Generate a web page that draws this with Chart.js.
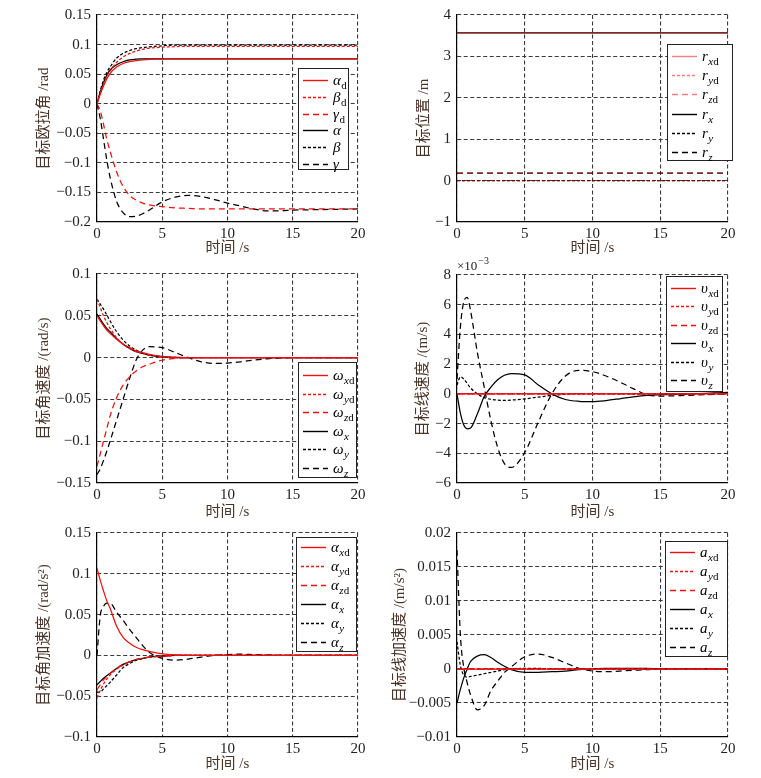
<!DOCTYPE html>
<html>
<head>
<meta charset="utf-8">
<script src="https://cdn.jsdelivr.net/npm/chart.js@4.4.0/dist/chart.umd.min.js"></script>
<style>
  body { margin: 0; background: #fff; width: 761px; height: 778px; position: relative; overflow: hidden; }
  canvas { position: absolute; }
</style>
</head>
<body>
<canvas id="p1"></canvas>
<canvas id="p2"></canvas>
<canvas id="p3"></canvas>
<canvas id="p4"></canvas>
<canvas id="p5"></canvas>
<canvas id="p6"></canvas>
<script>
// 时间采样点 (s)
const T = [0, 0.25, 0.5, 0.75, 1, 1.5, 2, 2.5, 3, 3.5, 4, 5, 6, 7, 8, 9, 10, 11, 12, 13, 14, 15, 17, 20];
const TP = [0, 20];
const xTicks = [0, 5, 10, 15, 20];

// 欧拉角 /rad
const eulerAlphaD = [0, 0.016, 0.030, 0.042, 0.051, 0.062, 0.068, 0.071, 0.073, 0.074, 0.075, 0.0755, 0.076, 0.076, 0.076, 0.076, 0.076, 0.076, 0.076, 0.076, 0.076, 0.076, 0.076, 0.076];
const eulerBetaD  = [0, 0.018, 0.034, 0.046, 0.055, 0.070, 0.079, 0.085, 0.089, 0.092, 0.094, 0.0955, 0.0965, 0.097, 0.097, 0.097, 0.097, 0.097, 0.097, 0.097, 0.097, 0.097, 0.097, 0.097];
const eulerGammaD = [0, -0.012, -0.035, -0.060, -0.080, -0.115, -0.140, -0.155, -0.163, -0.168, -0.171, -0.174, -0.176, -0.177, -0.178, -0.178, -0.178, -0.178, -0.178, -0.178, -0.178, -0.178, -0.178, -0.178];
const eulerAlpha  = [0, 0.020, 0.036, 0.048, 0.057, 0.066, 0.071, 0.074, 0.0755, 0.076, 0.076, 0.076, 0.076, 0.076, 0.076, 0.076, 0.076, 0.076, 0.076, 0.076, 0.076, 0.076, 0.076, 0.076];
const eulerBeta   = [0, 0.022, 0.040, 0.053, 0.062, 0.077, 0.085, 0.090, 0.093, 0.095, 0.096, 0.098, 0.099, 0.099, 0.099, 0.099, 0.099, 0.099, 0.099, 0.099, 0.099, 0.099, 0.099, 0.099];
const eulerGamma  = [0, -0.025, -0.060, -0.095, -0.124, -0.165, -0.184, -0.191, -0.190, -0.186, -0.180, -0.166, -0.158, -0.155, -0.157, -0.162, -0.168, -0.173, -0.178, -0.181, -0.181, -0.180, -0.179, -0.178];

// 位置 /m
const rXd = [3.57, 3.57];
const rYd = [0, 0];
const rZd = [0.18, 0.18];
const rX  = [3.57, 3.57];
const rY  = [0, 0];
const rZ  = [0.18, 0.18];

// 角速度 /(rad/s)
const omegaXd = [0.050, 0.044, 0.038, 0.033, 0.029, 0.022, 0.016, 0.012, 0.008, 0.006, 0.004, 0.0015, 0.0005, 0, 0, 0, 0, 0, 0, 0, 0, 0, 0, 0];
const omegaYd = [0.070, 0.060, 0.050, 0.042, 0.035, 0.024, 0.016, 0.011, 0.007, 0.005, 0.003, 0.001, 0.0003, 0, 0, 0, 0, 0, 0, 0, 0, 0, 0, 0];
const omegaZd = [-0.130, -0.115, -0.100, -0.085, -0.070, -0.048, -0.033, -0.023, -0.016, -0.011, -0.008, -0.003, -0.001, 0, 0, 0, 0, 0, 0, 0, 0, 0, 0, 0];
const omegaX  = [0.052, 0.046, 0.040, 0.035, 0.031, 0.023, 0.016, 0.011, 0.007, 0.005, 0.003, 0.001, 0, 0, 0, 0, 0, 0, 0, 0, 0, 0, 0, 0];
const omegaY  = [0.070, 0.064, 0.058, 0.051, 0.044, 0.031, 0.021, 0.014, 0.009, 0.005, 0.003, 0.001, 0, 0, 0, 0, 0, 0, 0, 0, 0, 0, 0, 0];
const omegaZ  = [-0.140, -0.133, -0.123, -0.112, -0.100, -0.075, -0.050, -0.025, -0.003, 0.009, 0.013, 0.012, 0.006, 0, -0.005, -0.007, -0.0065, -0.005, -0.003, -0.0015, -0.0005, 0, 0, 0];

// 线速度 (×10^-3 m/s)
const vXd = [0, 0, 0, 0, 0, 0, 0, 0, 0, 0, 0, 0, 0, 0, 0, 0, 0, 0, 0, 0, 0, 0, 0, 0];
const vYd = [0, 0, 0, 0, 0, 0, 0, 0, 0, 0, 0, 0, 0, 0, 0, 0, 0, 0, 0, 0, 0, 0, 0, 0];
const vZd = [0, 0, 0, 0, 0, 0, 0, 0, 0, 0, 0, 0, 0, 0, 0, 0, 0, 0, 0, 0, 0, 0, 0, 0];
const vX  = [0, -1.3, -2.1, -2.35, -2.3, -1.35, -0.2, 0.45, 0.95, 1.25, 1.37, 1.28, 0.6, 0, -0.38, -0.5, -0.52, -0.45, -0.33, -0.2, -0.1, -0.06, -0.02, 0.1];
const vY  = [0.6, 1.15, 1.0, 0.7, 0.4, 0.0, -0.25, -0.37, -0.42, -0.44, -0.42, -0.34, -0.22, -0.1, -0.03, 0, 0, 0, 0, 0, 0, 0, 0, 0];
const vZ  = [1.0, 4.5, 6.2, 6.5, 5.6, 2.8, 0.5, -1.8, -3.6, -4.7, -4.95, -3.95, -1.9, 0, 1.2, 1.58, 1.5, 1.2, 0.8, 0.35, -0.05, -0.15, -0.1, 0];

// 角加速度 /(rad/s²)
const accXd = [0.107, 0.092, 0.079, 0.067, 0.058, 0.036, 0.022, 0.015, 0.010, 0.007, 0.005, 0.002, 0.0006, 0, 0, 0, 0, 0, 0, 0, 0, 0, 0, 0];
const accYd = [-0.052, -0.043, -0.035, -0.029, -0.024, -0.017, -0.012, -0.008, -0.005, -0.0035, -0.002, -0.001, 0, 0, 0, 0, 0, 0, 0, 0, 0, 0, 0, 0];
const accZd = [-0.042, -0.036, -0.030, -0.026, -0.022, -0.016, -0.011, -0.008, -0.005, -0.0035, -0.002, -0.001, 0, 0, 0, 0, 0, 0, 0, 0, 0, 0, 0, 0];
const accX  = [-0.036, -0.032, -0.028, -0.025, -0.022, -0.016, -0.011, -0.008, -0.005, -0.0035, -0.002, -0.001, 0, 0, 0, 0, 0, 0, 0, 0, 0, 0, 0, 0];
const accY  = [-0.045, -0.045, -0.041, -0.037, -0.033, -0.024, -0.015, -0.010, -0.006, -0.004, -0.002, -0.001, 0, 0, 0, 0, 0, 0, 0, 0, 0, 0, 0, 0];
const accZ  = [0, 0.049, 0.060, 0.064, 0.064, 0.053, 0.043, 0.032, 0.022, 0.012, 0.004, -0.0036, -0.0058, -0.0045, -0.002, 0, 0.001, 0.0015, 0.001, 0.0005, 0, 0, 0, 0];

// 线加速度 /(m/s²)
const aXd = [0, 0, 0, 0, 0, 0, 0, 0, 0, 0, 0, 0, 0, 0, 0, 0, 0, 0, 0, 0, 0, 0, 0, 0];
const aYd = [0, 0, 0, 0, 0, 0, 0, 0, 0, 0, 0, 0, 0, 0, 0, 0, 0, 0, 0, 0, 0, 0, 0, 0];
const aZd = [0, 0, 0, 0, 0, 0, 0, 0, 0, 0, 0, 0, 0, 0, 0, 0, 0, 0, 0, 0, 0, 0, 0, 0];
const aX  = [-0.005, -0.003, -0.0013, 0, 0.0011, 0.0019, 0.0021, 0.0017, 0.001, 0.0004, -0.0001, -0.0005, -0.0005, -0.0004, -0.0003, -0.0001, 0, 0.0001, 0.0001, 0.0001, 0.0001, 0, 0, 0];
const aY  = [0.004, 0.0005, -0.0009, -0.0012, -0.0011, -0.0009, -0.0007, -0.0005, -0.0003, -0.0001, 0, 0.0001, 0.0001, 0, 0, 0, 0, 0, 0, 0, 0, 0, 0, 0];
const aZ  = [0.0175, 0.005, 0.0002, -0.002, -0.0038, -0.006, -0.0054, -0.0032, -0.0018, -0.0005, 0.0003, 0.0018, 0.0022, 0.0017, 0.0009, 0.0001, -0.0003, -0.0004, -0.0003, -0.0002, -0.0001, 0, 0, 0];

// 图例符号
const eulerSyms = ['α', 'β', 'γ', 'α', 'β', 'γ'];
const eulerSubs = ['d', 'd', 'd', '', '', ''];
const xyzSubs = ['xd', 'yd', 'zd', 'x', 'y', 'z'];

const DASHES = [[], [3, 2], [6, 4]];
const RED = '#f01010';
const GRID = '#3a3a3a';
const FONT_NUM = '"Liberation Serif", "Times New Roman", serif';
const FONT_TITLE = '"Liberation Serif", "Noto Sans CJK SC", serif';

function fmtTick(v) {
  return String(Math.round(v * 1e6) / 1e6).replace('-', '\u2212');
}

// 图内方框图例 + ×10^-3 标注
const boxLegend = {
  id: 'boxLegend',
  afterDraw(chart, args, o) {
    const { ctx, chartArea: a } = chart;
    const bx = Math.round(a.right + o.dx - o.w), by = Math.round(a.top + o.dy);
    ctx.save();
    ctx.fillStyle = '#fff';
    ctx.fillRect(bx, by, o.w, o.h);
    ctx.setLineDash([]);
    ctx.strokeStyle = '#222';
    ctx.lineWidth = 1;
    ctx.strokeRect(bx + 0.5, by + 0.5, o.w, o.h);
    chart.data.datasets.forEach((ds, i) => {
      const y = Math.round(by + o.first + i * o.gap) + 0.5;
      ctx.strokeStyle = ds.borderColor;
      ctx.lineWidth = 1.4;
      ctx.setLineDash(ds.borderDash);
      ctx.beginPath();
      ctx.moveTo(bx + 5, y);
      ctx.lineTo(bx + 30, y);
      ctx.stroke();
      ctx.setLineDash([]);
      ctx.fillStyle = '#000';
      ctx.textAlign = 'left';
      ctx.textBaseline = 'alphabetic';
      let x = bx + 35;
      ctx.font = 'italic 15px ' + FONT_NUM;
      ctx.fillText(o.syms[i], x, y + 4);
      x += ctx.measureText(o.syms[i]).width + 0.5;
      for (const ch of o.subs[i]) {
        ctx.font = (ch === 'd' ? '' : 'italic ') + '11px ' + FONT_NUM;
        ctx.fillText(ch, x, y + 8);
        x += ctx.measureText(ch).width;
      }
    });
    if (o.exponent) {
      ctx.fillStyle = '#222';
      ctx.font = '13px ' + FONT_NUM;
      ctx.fillText('×10', a.left, a.top - 5);
      const w = ctx.measureText('×10').width;
      ctx.font = '10px ' + FONT_NUM;
      ctx.fillText('\u22123', a.left + w + 1, a.top - 11);
    }
    ctx.restore();
  }
};

function makePanel(p) {
  const cv = document.getElementById(p.id);
  const [cl, ct, cw, ch] = p.box;
  const [pl, pt, pr, pb] = p.plot;
  cv.width = cw; cv.height = ch;
  Object.assign(cv.style, { left: cl + 'px', top: ct + 'px', width: cw + 'px', height: ch + 'px' });

  const datasets = p.series.map((vals, i) => ({
    data: p.t.map((x, k) => ({ x, y: vals[k] })),
    borderColor: i < 3 ? p.red : '#000',
    borderWidth: 1.25,
    borderDash: DASHES[i % 3],
    pointRadius: 0,
    cubicInterpolationMode: 'monotone',
    fill: false,
  }));

  return new Chart(cv, {
    type: 'line',
    data: { datasets },
    options: {
      responsive: false,
      animation: false,
      events: [],
      layout: { padding: { top: pt - ct, right: cl + cw - pr, left: 0, bottom: 0 } },
      plugins: {
        legend: { display: false },
        tooltip: { enabled: false },
        boxLegend: p.legend,
      },
      scales: {
        x: {
          type: 'linear',
          min: 0, max: 20,
          afterBuildTicks: (s) => { s.ticks = xTicks.map(v => ({ value: v })); },
          afterFit: (s) => { s.height = ct + ch - pb; },
          grid: { color: GRID, lineWidth: 1.1, drawTicks: false },
          border: { display: true, color: '#000', width: 1.2, dash: [4, 2.5] },
          ticks: { color: '#222', padding: 3, autoSkip: false, maxRotation: 0, font: { family: FONT_NUM, size: 15 }, callback: fmtTick },
          title: { display: true, text: '时间 /s', color: '#4a3428', font: { family: FONT_TITLE, size: 15, lineHeight: 1.2 },
                   padding: { top: 0, bottom: ct + ch - p.xTitleY - 9 } },
        },
        y: {
          type: 'linear',
          min: p.yMin, max: p.yMax,
          ticks: { stepSize: p.yStep, color: '#222', padding: 6, autoSkip: false, font: { family: FONT_NUM, size: 15 }, callback: fmtTick },
          afterFit: (s) => { s.width = pl - cl; },
          grid: { color: GRID, lineWidth: 1.1, drawTicks: false },
          border: { display: true, color: '#000', width: 1.2, dash: [4, 2.5] },
          title: { display: true, text: p.yTitle, color: '#4a3428', font: { family: FONT_TITLE, size: 15, lineHeight: 1.2 },
                   padding: { top: p.yTitleX - cl - 9, bottom: 0 } },
        },
      },
    },
    plugins: [boxLegend],
  });
}

const panels = [
  { id: 'p1', box: [0, 0, 378, 256], plot: [97, 14, 358, 222], xTitleY: 248, yTitleX: 44,
    yMin: -0.2, yMax: 0.15, yStep: 0.05, yTitle: '目标欧拉角 /rad', t: T, red: RED,
    series: [eulerAlphaD, eulerBetaD, eulerGammaD, eulerAlpha, eulerBeta, eulerGamma],
    legend: { syms: eulerSyms, subs: eulerSubs, dx: -10, dy: 53, w: 50, h: 101, first: 12, gap: 16.8 } },
  { id: 'p2', box: [380, 0, 381, 256], plot: [457, 14, 728, 222], xTitleY: 248, yTitleX: 424,
    yMin: -1, yMax: 4, yStep: 1, yTitle: '目标位置 /m', t: TP, red: 'rgba(232,0,0,0.5)',
    series: [rXd, rYd, rZd, rX, rY, rZ],
    legend: { syms: ['r', 'r', 'r', 'r', 'r', 'r'], subs: xyzSubs, dx: 4, dy: 29, w: 65, h: 116, first: 12, gap: 19.2 } },
  { id: 'p3', box: [0, 256, 378, 262], plot: [97, 274, 358, 483], xTitleY: 512, yTitleX: 44,
    yMin: -0.15, yMax: 0.1, yStep: 0.05, yTitle: '目标角速度 /(rad/s)', t: T, red: RED,
    series: [omegaXd, omegaYd, omegaZd, omegaX, omegaY, omegaZ],
    legend: { syms: ['ω', 'ω', 'ω', 'ω', 'ω', 'ω'], subs: xyzSubs, dx: -2, dy: 88, w: 58, h: 115, first: 13, gap: 18.6 } },
  { id: 'p4', box: [380, 256, 381, 262], plot: [457, 275, 728, 483], xTitleY: 512, yTitleX: 423,
    yMin: -6, yMax: 8, yStep: 2, yTitle: '目标线速度 /(m/s)', t: T, red: RED,
    series: [vXd, vYd, vZd, vX, vY, vZ],
    legend: { syms: ['υ', 'υ', 'υ', 'υ', 'υ', 'υ'], subs: xyzSubs, dx: -6, dy: 1, w: 56, h: 115, first: 12, gap: 18.4, exponent: true } },
  { id: 'p5', box: [0, 518, 378, 260], plot: [97, 529, 358, 737], xTitleY: 764, yTitleX: 44,
    yMin: -0.1, yMax: 0.15, yStep: 0.05, yTitle: '目标角加速度 /(rad/s²)', t: T, red: RED,
    series: [accXd, accYd, accZd, accX, accY, accZ],
    legend: { syms: ['α', 'α', 'α', 'α', 'α', 'α'], subs: xyzSubs, dx: -2, dy: 4, w: 60, h: 114, first: 10, gap: 19 } },
  { id: 'p6', box: [380, 518, 381, 260], plot: [457, 529, 728, 737], xTitleY: 764, yTitleX: 400,
    yMin: -0.01, yMax: 0.02, yStep: 0.005, yTitle: '目标线加速度 /(m/s²)', t: T, red: RED,
    series: [aXd, aYd, aZd, aX, aY, aZ],
    legend: { syms: ['a', 'a', 'a', 'a', 'a', 'a'], subs: xyzSubs, dx: -1, dy: 8, w: 62, h: 115, first: 11, gap: 19 } },
];

panels.forEach(makePanel);
</script>
</body>
</html>
